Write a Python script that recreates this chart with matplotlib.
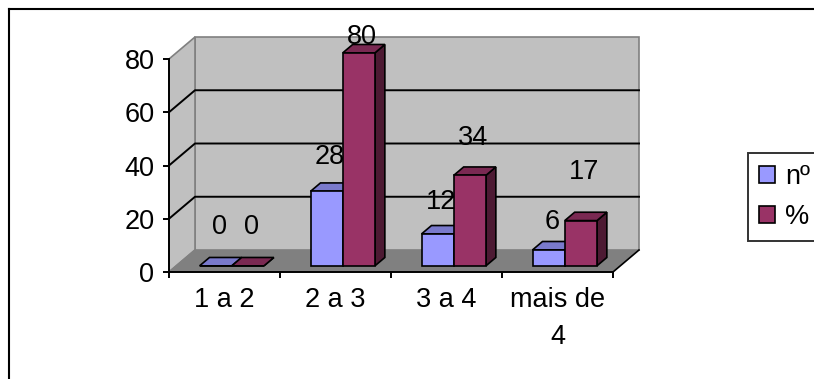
import matplotlib
matplotlib.use("Agg")
import matplotlib.pyplot as plt
from matplotlib.patches import Polygon, Rectangle, Patch
from matplotlib.lines import Line2D

# ---- data -------------------------------------------------------------
categories = ["1 a 2", "2 a 3", "3 a 4", "mais de\n4"]
series_names = ["nº", "%"]
counts = [0, 28, 12, 6]
percents = [0, 80, 34, 17]
y_ticks = [0, 20, 40, 60, 80]

# ---- style -------------------------------------------------------------
plt.rcParams["font.family"] = ["Liberation Sans", "DejaVu Sans"]
FS = 19.5
WALL = "#C0C0C0"
FLOOR = "#808080"
EDGE_GRAY = "#808080"
front_cols = ["#9999FF", "#993366"]
top_cols = ["#7A7ACC", "#7A2952"]
side_cols = ["#4D4D80", "#4D1A33"]
LW = 1.2

# vertical lift of each value label above its bar (data units)
label_lift = [[16.9, 15.2, 14.3, 12.8],
              [16.9, 8.3, 16.3, 20.6]]

W, H = 814, 379
fig = plt.figure(figsize=(W / 100, H / 100), dpi=100)
fig.patch.set_facecolor("white")
ax = fig.add_axes([169 / W, 107 / H, 444 / W, 213 / H])
n = len(categories)
ymax = y_ticks[-1]
ax.set_xlim(0, n)
ax.set_ylim(0, ymax)
ax.patch.set_visible(False)

# oblique depth of the 3-D box, expressed in data units
dx = n * 26 / 444
dy = ymax * 22 / 213


def poly(pts, fc, ec, z=0.5, lw=LW):
    ax.add_patch(Polygon(pts, closed=True, facecolor=fc, edgecolor=ec,
                         lw=lw, zorder=z, clip_on=False, joinstyle="miter"))


# walls and floor
poly([(dx, dy), (n + dx, dy), (n + dx, ymax + dy), (dx, ymax + dy)], WALL, EDGE_GRAY)
poly([(0, 0), (dx, dy), (dx, ymax + dy), (0, ymax)], WALL, EDGE_GRAY)
poly([(0, 0), (n, 0), (n + dx, dy), (dx, dy)], FLOOR, "none", z=0.6)
ax.plot([0, dx], [0, dy], color=EDGE_GRAY, lw=LW, clip_on=False, zorder=0.7)
ax.plot([n, n + dx], [0, dy], color="black", lw=LW, clip_on=False, zorder=0.7)

# gridlines on side and back walls
for v in y_ticks[1:-1]:
    ax.plot([0, dx, n + dx], [v, v + dy, v + dy], color="black", lw=1.4,
            clip_on=False, zorder=0.8)

# 3-D columns
bar_w = 0.29
t0, t1 = 0.28, 0.66
series = [counts, percents]
ddx, ddy = (t1 - t0) * dx, (t1 - t0) * dy
for i in range(n):
    for s, vals in enumerate(series):
        v = vals[i]
        x0 = i + 0.5 - bar_w + s * bar_w + t0 * dx
        x1 = x0 + bar_w
        y0 = t0 * dy
        poly([(x1, y0), (x1 + ddx, y0 + ddy), (x1 + ddx, y0 + ddy + v), (x1, y0 + v)],
             side_cols[s], "black", z=3)
        poly([(x0, y0 + v), (x1, y0 + v), (x1 + ddx, y0 + v + ddy), (x0 + ddx, y0 + v + ddy)],
             top_cols[s], "black", z=3)
        ax.add_patch(Rectangle((x0, y0), bar_w, v, facecolor=front_cols[s],
                               edgecolor="black", lw=LW, zorder=3, clip_on=False))
        ax.text((x0 + x1) / 2 + 0.03, v + label_lift[s][i], str(v),
                ha="center", va="center", fontsize=FS, zorder=5)

# axes
for side in ("top", "right"):
    ax.spines[side].set_visible(False)
for side in ("left", "bottom"):
    ax.spines[side].set_linewidth(1.4)
    ax.spines[side].set_color("black")
    ax.spines[side].set_zorder(2.5)

ax.set_yticks(y_ticks)
ax.tick_params(axis="y", direction="out", length=4.5, width=1.4,
               labelsize=FS, pad=6)
ax.set_xticks(range(n + 1))
ax.set_xticklabels([])
ax.tick_params(axis="x", which="major", direction="out", length=4.5, width=1.4)
ax.set_xticks([i + 0.5 for i in range(n)], minor=True)
ax.set_xticklabels(categories, minor=True, fontsize=FS, linespacing=1.55)
ax.tick_params(axis="x", which="minor", length=0, pad=11)

# legend
handles = [Patch(facecolor=front_cols[s], edgecolor="black", lw=LW)
           for s in range(len(series_names))]
leg = fig.legend(handles, series_names, loc="upper left",
                 bbox_to_anchor=(748 / W, 1 - 153 / H),
                 bbox_transform=fig.transFigure, frameon=True, fancybox=False,
                 edgecolor="black", fontsize=FS, handlelength=0.57,
                 handleheight=0.57, handletextpad=0.38, labelspacing=0.5,
                 borderpad=0.42, borderaxespad=0)
leg.get_frame().set_linewidth(1.4)

# chart-area border (left and top edges)
fig.add_artist(Line2D([9 / W, 9 / W], [0, 1 - 9 / H], color="black", lw=1.5,
                      transform=fig.transFigure))
fig.add_artist(Line2D([9 / W, 1], [1 - 9 / H, 1 - 9 / H], color="black", lw=1.5,
                      transform=fig.transFigure))

fig.savefig("out.png", dpi=100)
